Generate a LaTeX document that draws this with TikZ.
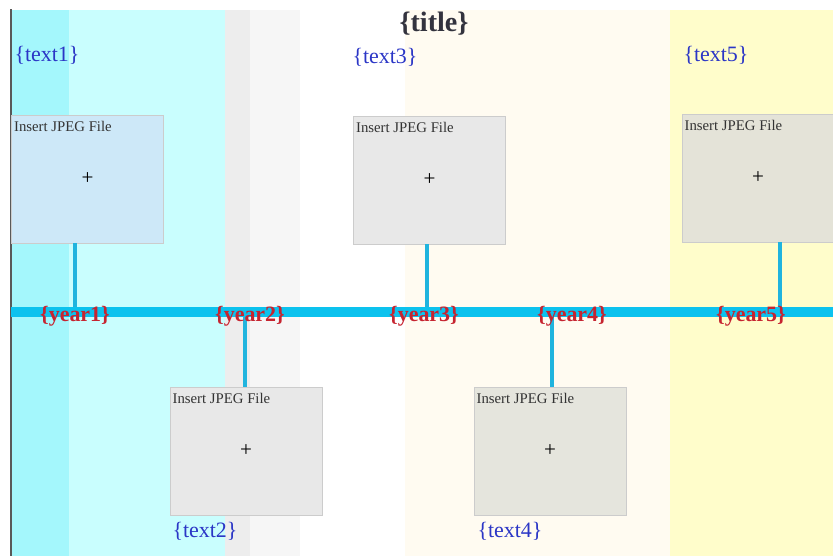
\documentclass[tikz,border=0pt]{standalone}
\usepackage{fontspec}
\setmainfont{Liberation Serif}
\usetikzlibrary{positioning}

\definecolor{barblue}{HTML}{0CC2EE}
\definecolor{stemblue}{HTML}{20B4DE}
\definecolor{yearred}{HTML}{C62430}
\definecolor{textblue}{HTML}{2B36C6}
\definecolor{titlegray}{HTML}{33333E}
\definecolor{cyanA}{HTML}{A4F7FC}
\definecolor{cyanB}{HTML}{C9FEFE}
\definecolor{greyA}{HTML}{EDEDED}
\definecolor{greyB}{HTML}{F6F6F6}
\definecolor{creamA}{HTML}{FFFBF1}
\definecolor{yellowA}{HTML}{FFFDCB}
\definecolor{photoblue}{HTML}{CDE8F8}
\definecolor{photogrey}{HTML}{E8E8E8}
\definecolor{photokhaki}{HTML}{E4E3D8}
\definecolor{photosage}{HTML}{E5E5DD}

\begin{document}
\begin{tikzpicture}[x=0.02cm, y=-0.02cm,
  photo/.style={draw=black!20, fill=#1,
    minimum width=3.04cm, minimum height=2.56cm, inner sep=0pt,
    font=\fontsize{12}{13}\selectfont},
  insert/.style={anchor=north west, inner xsep=1.5pt, inner ysep=3.8pt,
    text=black!80, font=\fontsize{8.4}{9}\selectfont},
  year/.style={text=yearred, font=\fontsize{12.5}{14}\selectfont\bfseries},
  caption/.style={text=textblue, font=\fontsize{12.5}{14}\selectfont},
  stem/.style={draw=stemblue, line width=2pt},
  timeline/.style={draw=barblue, line width=0.2cm}]
%%% background %%%

      \useasboundingbox (0,0) rectangle (833,556);
      \fill[cyanA] (12,10) rectangle (69,556);
      \fill[cyanB] (69,10) rectangle (225,556);
      \fill[greyA] (225,10) rectangle (250,556);
      \fill[greyB] (250,10) rectangle (300,556);
      \fill[creamA] (405,10) rectangle (670,556);
      \fill[yellowA] (670,10) rectangle (833,556);
      \draw[black!65, line width=1pt] (11,9) -- (11,556);

%%% pictures %%%

      \node[photo=photoblue] (photo1) at (87.5,179) {+};
      \node[photo=photogrey] (photo3) at (429.5,180) {+};
      \node[photo=photokhaki] (photo5) at (758,178) {+};
      \node[photo=photogrey] (photo2) at (246,451) {+};
      \node[photo=photosage] (photo4) at (550,451) {+};
      %%
      \node[insert] at (photo1.north west) {Insert JPEG File};
      \node[insert] at (photo3.north west) {Insert JPEG File};
      \node[insert] at (photo5.north west) {Insert JPEG File};
      \node[insert] at (photo2.north west) {Insert JPEG File};
      \node[insert] at (photo4.north west) {Insert JPEG File};

%%% timeline %%%

      \coordinate (start) at (11,312);
      \coordinate (end) at (833,312);
      \coordinate (t1) at (75,312);
      \coordinate (t2) at (245,312);
      \coordinate (t3) at (427,312);
      \coordinate (t4) at (552,312);
      \coordinate (t5) at (780,312);
      \draw[stem] (photo1.south -| t1) -- (t1);
      \draw[stem] (photo3.south -| t3) -- (t3);
      \draw[stem] (photo5.south -| t5) -- (t5);
      \draw[stem] (t2) -- (photo2.north -| t2);
      \draw[stem] (t4) -- (photo4.north -| t4);
      \draw[timeline] (start) -- (end);

      \node[year] (year1) at (75,316) {\{year1\}};
      \node[year] (year2) at (250,316) {\{year2\}};
      \node[year] (year3) at (424,316) {\{year3\}};
      \node[year] (year4) at (572,316) {\{year4\}};
      \node[year] (year5) at (751,316) {\{year5\}};

%%% texts %%%

      \node[text=titlegray, font=\fontsize{16}{18}\selectfont\bfseries] (title) at (434,24) {\{title\}};
      \node[caption] (text1) at (47,55) {\{text1\}};
      \node[caption] (text3) at (385,57) {\{text3\}};
      \node[caption] (text5) at (716,55) {\{text5\}};
      \node[caption] (text2) at (205,531) {\{text2\}};
      \node[caption] (text4) at (510,531) {\{text4\}};

\end{tikzpicture}
\end{document}
